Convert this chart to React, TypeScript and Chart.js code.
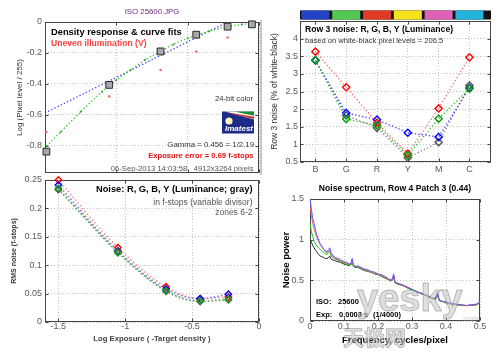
import React, { useEffect, useRef } from 'react';
import { Chart, registerables } from 'chart.js';

Chart.register(...registerables);

const SANS = '"Liberation Sans", Arial, Helvetica, sans-serif';
const CJK = '"Noto Sans CJK SC", sans-serif';

// ===== Panel 1: density response & curve fits =====
const zoneLogExposure = [-1.49, -1.05, -0.69, -0.44, -0.22, -0.05];
const densityLevel = [-0.837, -0.406, -0.19, -0.082, -0.03, -0.015];
const unevenExposure = [-1.49, -1.05, -0.69, -0.44, -0.22];
const unevenLevel = [-0.71, -0.48, -0.31, -0.19, -0.1];
const gammaFitExposure = [-1.5, -0.22];
const gammaFitLevel = [-0.587, 0];
const curveFitExposure = [-1.49, -1.39, -1.25, -1.1, -1.0, -0.9, -0.8, -0.69, -0.6, -0.5, -0.44, -0.35, -0.22, -0.12, -0.03];
const curveFitLevel = [-0.8, -0.71, -0.58, -0.45, -0.375, -0.31, -0.245, -0.19, -0.145, -0.105, -0.085, -0.06, -0.03, -0.016, -0.008];
const densityXTicks = [-1.5, -1, -0.5, 0];
const densityYTicks = [-0.8, -0.6, -0.4, -0.2, 0];

// ===== Panel 2: Row 3 noise =====
const patchNames = ['B', 'G', 'R', 'Y', 'M', 'C'];
const patchIndex = [1, 2, 3, 4, 5, 6];
const patchColors = ['#2244c4', '#52c852', '#e03a26', '#f8e21e', '#e062b8', '#22b2da'];
const row3Red = [3.63, 2.62, 1.61, 0.74, 2.02, 3.47];
const row3Green = [3.39, 1.72, 1.54, 0.69, 1.73, 2.58];
const row3Blue = [3.38, 1.89, 1.7, 1.33, 1.21, 2.6];
const row3Gray = [3.39, 1.82, 1.47, 0.62, 1.06, 2.67];
const row3YTicks = [0.5, 1, 1.5, 2, 2.5, 3, 3.5, 4];

// ===== Panel 3: RMS noise in f-stops =====
const noiseExposure = [-1.5, -1.055, -0.695, -0.44, -0.229];
const rmsRed = [0.25, 0.131, 0.062, 0.041, 0.044];
const rmsBlue = [0.241, 0.125, 0.058, 0.041, 0.049];
const rmsGreen = [0.235, 0.122, 0.055, 0.037, 0.04];
const rmsGray = [0.233, 0.124, 0.054, 0.036, 0.039];
const rmsXTicks = [-1.5, -1, -0.5, 0];
const rmsYTicks = [0, 0.05, 0.1, 0.15, 0.2, 0.25];

// ===== Panel 4: noise spectrum =====
const freq = [0, 0.004, 0.008, 0.012, 0.016, 0.02, 0.025, 0.03, 0.035, 0.04, 0.045, 0.05, 0.055, 0.058, 0.062, 0.068, 0.075, 0.082, 0.09, 0.1, 0.108, 0.116, 0.121, 0.124, 0.127, 0.132, 0.14, 0.15, 0.16, 0.17, 0.18, 0.19, 0.2, 0.21, 0.22, 0.23, 0.238, 0.243, 0.246, 0.25, 0.26, 0.27, 0.28, 0.29, 0.3, 0.31, 0.32, 0.33, 0.34, 0.35, 0.36, 0.368, 0.372, 0.375, 0.38, 0.39, 0.4, 0.41, 0.42, 0.43, 0.44, 0.45, 0.46, 0.47, 0.48, 0.49, 0.495, 0.5];
const specBlue = [1.5, 1.38, 1.26, 1.2, 1.12, 1.06, 1.0, 0.95, 0.92, 0.89, 0.86, 0.85, 0.88, 0.9, 0.84, 0.8, 0.78, 0.77, 0.75, 0.73, 0.72, 0.7, 0.72, 0.77, 0.7, 0.67, 0.68, 0.66, 0.64, 0.63, 0.61, 0.6, 0.58, 0.57, 0.55, 0.52, 0.5, 0.53, 0.58, 0.48, 0.46, 0.45, 0.43, 0.41, 0.39, 0.37, 0.35, 0.34, 0.32, 0.3, 0.28, 0.27, 0.31, 0.36, 0.26, 0.24, 0.23, 0.22, 0.21, 0.21, 0.2, 0.2, 0.19, 0.2, 0.2, 0.21, 0.22, 0.25];
const specRed = [1.42, 1.3, 1.2, 1.13, 1.08, 1.03, 0.98, 0.94, 0.91, 0.88, 0.86, 0.84, 0.86, 0.87, 0.82, 0.79, 0.77, 0.76, 0.74, 0.72, 0.71, 0.7, 0.71, 0.74, 0.69, 0.67, 0.67, 0.65, 0.63, 0.62, 0.6, 0.59, 0.57, 0.56, 0.54, 0.51, 0.5, 0.51, 0.55, 0.47, 0.46, 0.44, 0.42, 0.41, 0.39, 0.37, 0.35, 0.33, 0.32, 0.3, 0.28, 0.27, 0.29, 0.33, 0.26, 0.24, 0.23, 0.22, 0.21, 0.2, 0.2, 0.19, 0.19, 0.19, 0.2, 0.2, 0.21, 0.24];
const specGreen = [1.2, 1.1, 1.04, 0.98, 0.95, 0.92, 0.9, 0.88, 0.86, 0.84, 0.83, 0.82, 0.84, 0.86, 0.8, 0.78, 0.76, 0.75, 0.73, 0.71, 0.7, 0.69, 0.69, 0.72, 0.68, 0.66, 0.66, 0.64, 0.63, 0.61, 0.6, 0.58, 0.57, 0.55, 0.53, 0.51, 0.49, 0.5, 0.54, 0.47, 0.45, 0.44, 0.42, 0.4, 0.38, 0.36, 0.35, 0.33, 0.31, 0.3, 0.28, 0.26, 0.28, 0.32, 0.25, 0.24, 0.22, 0.21, 0.21, 0.2, 0.19, 0.19, 0.19, 0.19, 0.19, 0.2, 0.21, 0.24];
const specGray = [1.0, 0.97, 0.93, 0.9, 0.87, 0.85, 0.82, 0.8, 0.79, 0.78, 0.77, 0.77, 0.78, 0.8, 0.76, 0.75, 0.74, 0.73, 0.72, 0.7, 0.69, 0.68, 0.7, 0.75, 0.68, 0.66, 0.66, 0.64, 0.62, 0.61, 0.6, 0.58, 0.57, 0.55, 0.53, 0.51, 0.5, 0.52, 0.56, 0.47, 0.45, 0.44, 0.42, 0.4, 0.38, 0.37, 0.35, 0.33, 0.32, 0.3, 0.28, 0.27, 0.3, 0.34, 0.25, 0.24, 0.23, 0.22, 0.21, 0.2, 0.2, 0.19, 0.19, 0.19, 0.2, 0.2, 0.21, 0.24];
const specXTicks = [0, 0.1, 0.2, 0.3, 0.4, 0.5];
const specYTicks = [0, 0.5, 1, 1.5];

// ===== helpers =====
const pts = (xs: number[], ys: number[]) => xs.map((x, i) => ({ x, y: ys[i] }));

type TextItem = { t: string; x: number; y: number; size: number; bold?: boolean; italic?: boolean; color?: string; align?: CanvasTextAlign; family?: string };

function drawTexts(ctx: CanvasRenderingContext2D, items: TextItem[]) {
  items.forEach((it) => {
    ctx.save();
    ctx.font = `${it.italic ? 'italic ' : ''}${it.bold ? 'bold ' : ''}${it.size}px ${it.family || SANS}`;
    ctx.fillStyle = it.color || '#000';
    ctx.textAlign = it.align || 'left';
    ctx.textBaseline = 'middle';
    ctx.fillText(it.t, it.x, it.y);
    ctx.restore();
  });
}

function drawFrame(chart: any, xt: number[], yt: number[]) {
  const { ctx, chartArea: a } = chart;
  const sx = chart.scales.x;
  const sy = chart.scales.y;
  ctx.save();
  ctx.strokeStyle = '#444';
  ctx.lineWidth = 1;
  const l = Math.round(a.left) + 0.5;
  const t = Math.round(a.top) + 0.5;
  const r = Math.round(a.right) - 0.5;
  const b = Math.round(a.bottom) - 0.5;
  ctx.strokeRect(l, t, r - l, b - t);
  ctx.beginPath();
  xt.forEach((v) => {
    const p = Math.round(sx.getPixelForValue(v)) + 0.5;
    ctx.moveTo(p, b); ctx.lineTo(p, b - 3);
    ctx.moveTo(p, t); ctx.lineTo(p, t + 3);
  });
  yt.forEach((v) => {
    const p = Math.round(sy.getPixelForValue(v)) + 0.5;
    ctx.moveTo(l, p); ctx.lineTo(l + 3, p);
    ctx.moveTo(r, p); ctx.lineTo(r - 3, p);
  });
  ctx.stroke();
  ctx.restore();
}

function mkAxis(o: { min: number; max: number; ticks: number[]; size: number; labels?: boolean; fmt?: (v: number) => string; title?: string; titleFont?: any; titleColor?: string; pad?: number }) {
  return {
    type: 'linear',
    min: o.min,
    max: o.max,
    afterBuildTicks: (s: any) => { s.ticks = o.ticks.map((v) => ({ value: v })); },
    afterFit: (s: any) => { if (s.isHorizontal()) s.height = o.size; else s.width = o.size; },
    grid: { display: true, color: '#c2c2c2', lineWidth: 1, drawTicks: false },
    border: { display: false, dash: [1, 2] },
    ticks: {
      display: o.labels !== false,
      font: { family: SANS, size: 9, lineHeight: 1 },
      color: '#5a5a5a',
      padding: o.pad ?? 3,
      autoSkip: false,
      maxRotation: 0,
      callback: (v: any) => (o.fmt ? o.fmt(Number(v)) : String(Number(v))),
    },
    title: o.title
      ? { display: true, text: o.title, font: o.titleFont, color: o.titleColor ?? '#333', padding: 0 }
      : { display: false },
  };
}

const base = (padding: any) => ({
  responsive: false,
  maintainAspectRatio: false,
  animation: false,
  events: [],
  layout: { padding },
  plugins: { legend: { display: false }, tooltip: { enabled: false }, title: { display: false } },
});

const texts1: TextItem[] = [
  { t: 'ISO 25600.JPG', x: 152, y: 12, size: 7.8, color: '#6a2a7c', align: 'center' },
  { t: 'Density response & curve fits', x: 51, y: 32, size: 9.3, bold: true, color: '#000' },
  { t: 'Uneven illumination (V)', x: 51, y: 44, size: 8.6, bold: true, color: '#ff4040' },
  { t: '24-bit color', x: 253, y: 99, size: 7.7, color: '#333', align: 'right' },
  { t: 'Gamma = 0.456 = 1/2.19', x: 254, y: 144.7, size: 7.8, color: '#333', align: 'right' },
  { t: 'Exposure error = 0.69 f-stops', x: 253.5, y: 156, size: 7.6, bold: true, color: '#e01414', align: 'right' },
  { t: '06-Sep-2013 14:03:58   4912x3264 pixels', x: 253.5, y: 168.7, size: 7.7, color: '#555', align: 'right' },
];

const texts2: TextItem[] = [
  { t: 'Row 3 noise: R, G, B, Y (Luminance)', x: 305, y: 29.5, size: 8.6, bold: true, color: '#000' },
  { t: 'based on white-black pixel levels = 206.5', x: 305, y: 41, size: 7.6, color: '#333' },
];

const texts3: TextItem[] = [
  { t: 'Noise: R, G, B, Y (Luminance; gray)', x: 252.5, y: 189, size: 9.3, bold: true, color: '#000', align: 'right' },
  { t: 'in f-stops (variable divisor)', x: 252.5, y: 202.3, size: 8.5, color: '#555', align: 'right' },
  { t: 'zones 6-2', x: 252.5, y: 212.8, size: 8.5, color: '#555', align: 'right' },
];

const texts4: TextItem[] = [
  { t: 'Noise spectrum, Row 4 Patch 3 (0.44)', x: 395, y: 188.3, size: 8.6, bold: true, color: '#000', align: 'center' },
  { t: 'ISO:', x: 316, y: 301.7, size: 7.5, bold: true, color: '#000' },
  { t: '25600', x: 338, y: 301.7, size: 7.5, bold: true, color: '#000' },
  { t: 'Exp:', x: 316, y: 315, size: 7.5, bold: true, color: '#000' },
  { t: '0.0003 s', x: 339, y: 315, size: 7.5, bold: true, color: '#000' },
  { t: '(1/4000)', x: 373, y: 315, size: 7.5, bold: true, color: '#000' },
];

function drawLogo(ctx: CanvasRenderingContext2D) {
  const lx = 222, ly = 111.5, lw = 32, lh = 22;
  ctx.save();
  ctx.fillStyle = '#1c2a88';
  ctx.fillRect(lx, ly, lw, lh);
  // stripes
  ctx.fillStyle = '#ffffff';
  ctx.beginPath();
  ctx.moveTo(lx + 3, ly); ctx.lineTo(lx + lw, ly); ctx.lineTo(lx + lw, ly + 8); ctx.closePath(); ctx.fill();
  ctx.fillStyle = '#d42a22';
  ctx.beginPath();
  ctx.moveTo(lx + 3, ly + 0.5); ctx.lineTo(lx + lw, ly + 5.2); ctx.lineTo(lx + lw, ly + 7.4); ctx.closePath(); ctx.fill();
  ctx.fillStyle = '#1a8c2c';
  ctx.beginPath();
  ctx.moveTo(lx + 12, ly); ctx.lineTo(lx + lw, ly); ctx.lineTo(lx + lw, ly + 4.2); ctx.closePath(); ctx.fill();
  // sun
  ctx.fillStyle = '#fff6b8';
  ctx.beginPath();
  ctx.arc(lx + 7, ly + 9.5, 3.6, 0, Math.PI * 2);
  ctx.fill();
  ctx.restore();
  drawTexts(ctx, [{ t: 'Imatest', x: lx + lw / 2 + 1, y: ly + 17, size: 8, bold: true, italic: true, color: '#ffffff', align: 'center' }]);
}

function drawWatermark(ctx: CanvasRenderingContext2D) {
  ctx.save();
  ctx.globalAlpha = 0.55;
  ctx.textBaseline = 'alphabetic';
  ctx.textAlign = 'left';
  ctx.font = `bold 38px ${SANS}`;
  ctx.fillStyle = '#c4c4c4';
  ctx.strokeStyle = '#8c8c8c';
  ctx.lineWidth = 1;
  ctx.fillText('yesky', 357, 311);
  ctx.strokeText('yesky', 357, 311);
  ctx.font = `8px ${SANS}`;
  ctx.fillStyle = '#9a9a9a';
  ctx.fillText('.com', 461, 321);
  ctx.font = `bold 21px ${CJK}`;
  ctx.fillStyle = '#d4d4d4';
  ctx.fillText('天极网', 343, 345);
  ctx.strokeText('天极网', 343, 345);
  ctx.restore();
}

function cfg1(): any {
  return {
    type: 'line',
    data: {
      datasets: [
        { data: pts(zoneLogExposure, densityLevel), showLine: false, pointStyle: 'rect', pointRadius: 4.8, pointBackgroundColor: '#a8a8a8', pointBorderColor: '#2a2a2a', pointBorderWidth: 1, clip: false },
        { data: pts(unevenExposure, unevenLevel), showLine: false, pointStyle: 'circle', pointRadius: 1.3, pointBackgroundColor: '#ff6a6a', pointBorderWidth: 0 },
        { data: pts(curveFitExposure, curveFitLevel), borderColor: '#26cc26', borderWidth: 1.3, borderDash: [1.3, 2.2], tension: 0.4, cubicInterpolationMode: 'monotone', pointRadius: 1, pointBackgroundColor: '#22aa22', pointBorderWidth: 0 },
        { data: pts(gammaFitExposure, gammaFitLevel), borderColor: '#3a3aff', borderWidth: 1.3, borderDash: [1.3, 2.2], pointRadius: 0 },
      ],
    },
    options: {
      ...base({ left: 15, top: 22, right: 241, bottom: 180 }),
      scales: {
        x: mkAxis({ min: -1.5, max: 0, ticks: densityXTicks, size: 0, labels: false }),
        y: mkAxis({ min: -0.975, max: 0, ticks: densityYTicks, size: 30, title: 'Log (Pixel level / 255)', titleFont: { family: SANS, size: 8, lineHeight: 1.2 } }),
      },
    },
    plugins: [
      {
        id: 'p1',
        beforeDatasetsDraw: (c: any) => drawFrame(c, densityXTicks, densityYTicks),
        afterDraw: (c: any) => { drawLogo(c.ctx); drawTexts(c.ctx, texts1); },
      },
    ],
  };
}

function row3Set(values: number[], line: string, mark: string) {
  return {
    data: pts(patchIndex, values),
    borderColor: line,
    borderWidth: 1.4,
    borderDash: [1.3, 2.2],
    pointStyle: 'rectRot',
    pointRadius: 3.6,
    pointBorderColor: mark,
    pointBackgroundColor: 'rgba(255,255,255,0)',
    pointBorderWidth: 1.4,
    clip: false,
  };
}

function cfg2(): any {
  return {
    type: 'line',
    data: {
      datasets: [
        row3Set(row3Green, '#3cc03c', '#00a000'),
        row3Set(row3Red, '#ff6a6a', '#ff0000'),
        row3Set(row3Blue, '#4a4aff', '#0000ff'),
        row3Set(row3Gray, '#8a8a8a', '#505050'),
      ],
    },
    options: {
      ...base({ left: 270, top: 21, right: 9, bottom: 176 }),
      scales: {
        x: mkAxis({ min: 0.5, max: 6.7, ticks: patchIndex, size: 15, pad: 3, fmt: (v) => patchNames[Math.round(v) - 1] ?? '' }),
        y: mkAxis({ min: 0.5, max: 4.5, ticks: row3YTicks, size: 30, pad: 2, title: 'Row 3 noise (% of white-black)', titleFont: { family: SANS, size: 8.5, lineHeight: 1.2 } }),
      },
    },
    plugins: [
      {
        id: 'p2',
        beforeDatasetsDraw: (c: any) => drawFrame(c, patchIndex, row3YTicks),
        afterDraw: (c: any) => {
          const { ctx, chartArea: a } = c;
          const sx = c.scales.x;
          ctx.save();
          ctx.fillStyle = '#111';
          ctx.fillRect(a.left, 10.5, a.right - a.left, 9);
          patchColors.forEach((col, i) => {
            const p = sx.getPixelForValue(patchIndex[i]);
            ctx.fillStyle = col;
            ctx.fillRect(p - 14, 10.5, 28, 9);
          });
          ctx.fillStyle = '#c6c6c6';
          ctx.fillRect(260, 20, 2, 155);
          ctx.restore();
          drawTexts(ctx, texts2);
        },
      },
    ],
  };
}

function rmsSet(values: number[], line: string, mark: string) {
  return {
    data: pts(noiseExposure, values),
    borderColor: line,
    borderWidth: 1.6,
    borderDash: [1.3, 2.4],
    tension: 0.4,
    cubicInterpolationMode: 'monotone',
    pointStyle: 'rectRot',
    pointRadius: 3.2,
    pointBorderColor: mark,
    pointBackgroundColor: 'rgba(255,255,255,0)',
    pointBorderWidth: 1.4,
    clip: false,
  };
}

function cfg3(): any {
  return {
    type: 'line',
    data: {
      datasets: [
        rmsSet(rmsGreen, '#50b850', '#1a9a1a'),
        rmsSet(rmsGray, '#909090', '#505050'),
        rmsSet(rmsBlue, '#6a6aff', '#0000ff'),
        rmsSet(rmsRed, '#ff8080', '#ff0000'),
      ],
    },
    options: {
      ...base({ left: 10, top: 180, right: 241, bottom: 9 }),
      scales: {
        x: mkAxis({ min: -1.6, max: 0, ticks: rmsXTicks, size: 22, pad: 0, title: 'Log Exposure ( -Target density )', titleFont: { family: SANS, size: 7.7, weight: 'bold', lineHeight: 1.2 }, titleColor: '#444' }),
        y: mkAxis({ min: 0, max: 0.25, ticks: rmsYTicks, size: 35, pad: 3, title: 'RMS noise (f-stops)', titleFont: { family: SANS, size: 7, weight: 'bold', lineHeight: 1.2 }, titleColor: '#333' }),
      },
    },
    plugins: [
      {
        id: 'p3',
        beforeDatasetsDraw: (c: any) => drawFrame(c, rmsXTicks, rmsYTicks),
        afterDraw: (c: any) => drawTexts(c.ctx, texts3),
      },
    ],
  };
}

function specSet(values: number[], color: string) {
  return { data: pts(freq, values), borderColor: color, borderWidth: 1, pointRadius: 0, tension: 0 };
}

function cfg4(): any {
  return {
    type: 'line',
    data: {
      datasets: [
        specSet(specBlue, '#5a5aff'),
        specSet(specRed, '#ff5a5a'),
        specSet(specGreen, '#10c010'),
        specSet(specGray, '#2a2a2a'),
      ],
    },
    options: {
      ...base({ left: 281, top: 199, right: 20, bottom: 7 }),
      scales: {
        x: mkAxis({ min: 0, max: 0.5, ticks: specXTicks, size: 25, pad: 1, title: 'Frequency, cycles/pixel', titleFont: { family: SANS, size: 9.5, weight: 'bold', lineHeight: 1.2 }, titleColor: '#000' }),
        y: mkAxis({ min: 0, max: 1.5, ticks: specYTicks, size: 29, pad: 6, title: 'Noise power', titleFont: { family: SANS, size: 9.5, weight: 'bold', lineHeight: 1.2 }, titleColor: '#000' }),
      },
    },
    plugins: [
      {
        id: 'p4',
        beforeDatasetsDraw: (c: any) => drawFrame(c, specXTicks, specYTicks),
        afterDraw: (c: any) => {
          drawTexts(c.ctx, texts4);
          drawWatermark(c.ctx);
        },
      },
    ],
  };
}

export default function App() {
  const r1 = useRef<HTMLCanvasElement>(null);
  const r2 = useRef<HTMLCanvasElement>(null);
  const r3 = useRef<HTMLCanvasElement>(null);
  const r4 = useRef<HTMLCanvasElement>(null);

  useEffect(() => {
    document.body.style.margin = '0';
    const charts = [
      new Chart(r1.current as HTMLCanvasElement, cfg1()),
      new Chart(r2.current as HTMLCanvasElement, cfg2()),
      new Chart(r3.current as HTMLCanvasElement, cfg3()),
      new Chart(r4.current as HTMLCanvasElement, cfg4()),
    ];
    return () => charts.forEach((c) => c.destroy());
  }, []);

  const cs: React.CSSProperties = { position: 'absolute', left: 0, top: 0, width: 500, height: 353 };
  return (
    <div style={{ position: 'relative', width: 500, height: 353, background: '#ffffff', overflow: 'hidden' }}>
      <canvas ref={r1} width={500} height={353} style={cs} />
      <canvas ref={r2} width={500} height={353} style={cs} />
      <canvas ref={r3} width={500} height={353} style={cs} />
      <canvas ref={r4} width={500} height={353} style={cs} />
    </div>
  );
}
